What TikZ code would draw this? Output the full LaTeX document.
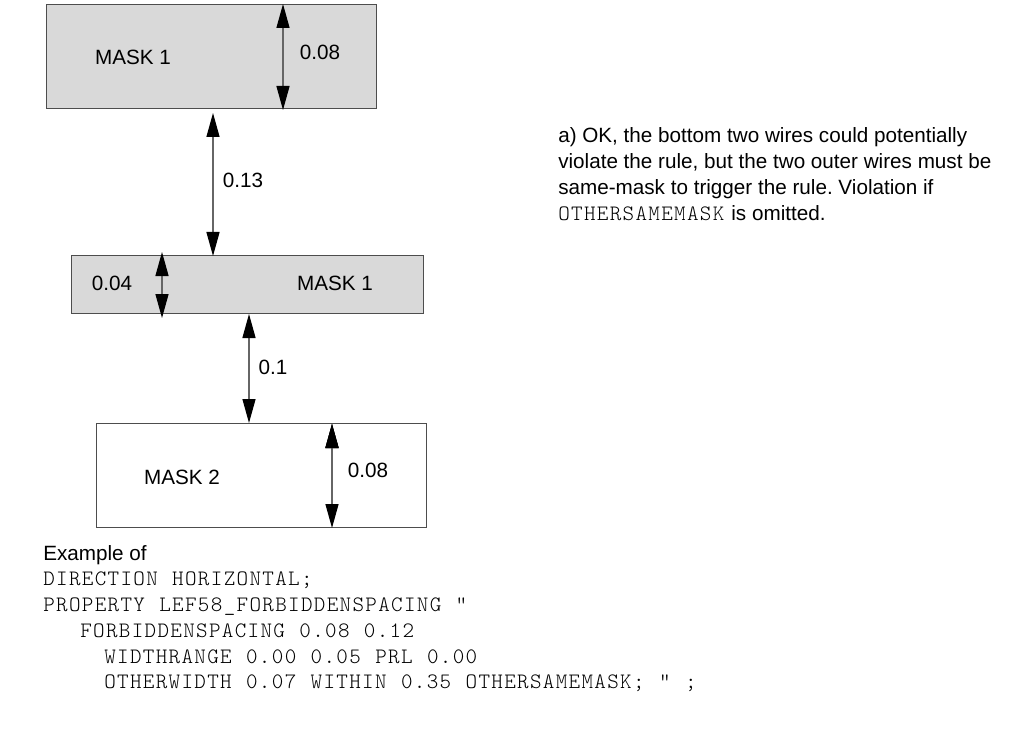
\documentclass[tikz,border=0pt]{standalone}
\usepackage{fontspec}
\setmainfont{Liberation Sans}
\setmonofont{lmmonolt10-regular.otf}[Scale=1.065, LetterSpace=6, WordSpace=1.12]
\usepackage{xcolor}
\definecolor{maskfill}{HTML}{D9D9D9}
\definecolor{edgecolor}{HTML}{4D4D4D}
\usetikzlibrary{arrows.meta, positioning}
\frenchspacing

\begin{document}
\begin{tikzpicture}
        [
          x=0.75pt, y=-0.75pt,
          every node/.style={inner sep=0pt, font=\fontsize{15.5}{19.5}\selectfont},
          wire/.style={draw=edgecolor, line width=1pt, anchor=north west},
          dim/.style={{Triangle[length=18pt, width=9.75pt, color=black]}-{Triangle[length=18pt, width=9.75pt, color=black]}, line width=1pt, draw=black!60}
        ]
        \useasboundingbox (0,0) rectangle (1013,734);

        % the three wires
        \node[wire, fill=maskfill, minimum width=247.5pt, minimum height=78pt] (top) at (46,4) {};
        \node[wire, fill=maskfill, minimum width=264pt, minimum height=43.5pt] (mid) at (70.5,255) {};
        \node[wire, fill=white, minimum width=247.5pt, minimum height=78pt] (bot) at (96,423) {};

        \node (topname) at (133,57) {MASK 1};
        \node (midname) at (335,283) {MASK 1};
        \node (botname) at (182,477) {MASK 2};

        % dimension end points
        \coordinate (w1a) at (283,4);   \coordinate (w1b) at (283,110);
        \coordinate (s1a) at (213,113); \coordinate (s1b) at (213,256);
        \coordinate (w2a) at (162,252); \coordinate (w2b) at (162,318);
        \coordinate (s2a) at (249,314); \coordinate (s2b) at (249,423);
        \coordinate (w3a) at (332,424); \coordinate (w3b) at (332,528);

        \path[dim] (w1a) edge (w1b)
                   (s1a) edge (s1b)
                   (w2a) edge (w2b)
                   (s2a) edge (s2b)
                   (w3a) edge (w3b);

        \node (w1) at (320,52) {0.08};
        \node (s1) at (243,180) {0.13};
        \node (w2) at (112,283) {0.04};
        \node (s2) at (273,367) {0.1};
        \node (w3) at (368,470) {0.08};

        % note on the right
        \node[anchor=north west, align=left] (note) at (558,127)
          {a) OK, the bottom two wires could potentially\\
           violate the rule, but the two outer wires must be\\
           same-mask to trigger the rule. Violation if\\
           \texttt{OTHERSAMEMASK} is omitted.};

        % example code
        \node[anchor=north west, align=left, font=\fontsize{15.5}{19.3}\selectfont] (code) at (43,545)
          {Example of\\
           \texttt{DIRECTION HORIZONTAL;}\\
           \texttt{PROPERTY LEF58\_FORBIDDENSPACING "}\\
           \hspace*{27.75pt}\texttt{FORBIDDENSPACING 0.08 0.12}\\
           \hspace*{45.75pt}\texttt{WIDTHRANGE 0.00 0.05 PRL 0.00}\\
           \hspace*{45.75pt}\texttt{OTHERWIDTH 0.07 WITHIN 0.35 OTHERSAMEMASK; " ;}};
      \end{tikzpicture}
\end{document}
